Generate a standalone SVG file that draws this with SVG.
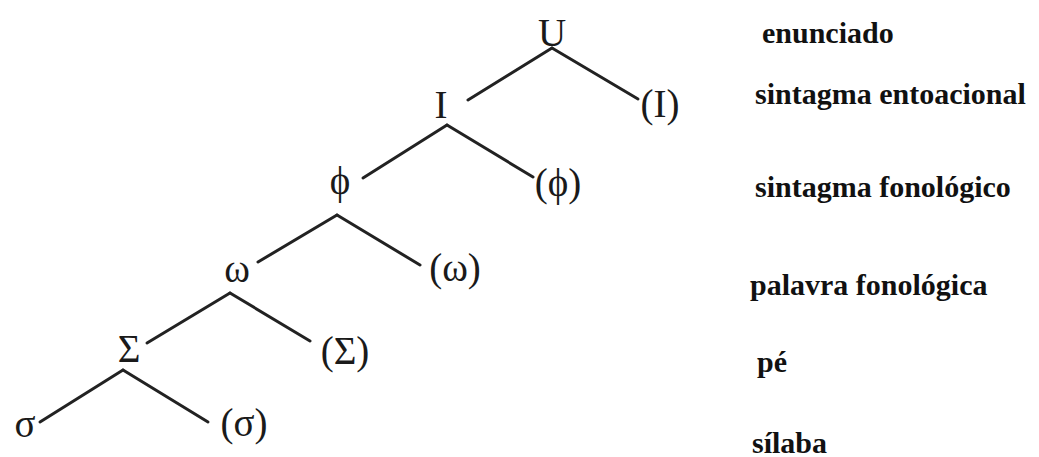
<svg xmlns="http://www.w3.org/2000/svg" width="1039" height="457" viewBox="0 0 1039 457">
<style>
.sym{font-family:"Liberation Serif","Times New Roman",serif;font-size:39px;fill:#1a1a1a;text-anchor:middle}
.lab{font-family:"Liberation Serif","Times New Roman",serif;font-size:30px;font-weight:bold;fill:#111}
.edge{stroke:#222;stroke-width:3;stroke-linecap:round;fill:none}
</style>
<rect width="1039" height="457" fill="#fff"/>
<g id="connectors">
<line class="edge" x1="552" y1="48" x2="468" y2="100"/>
<line class="edge" x1="552" y1="48" x2="638" y2="99"/>
<line class="edge" x1="447" y1="125" x2="363" y2="178"/>
<line class="edge" x1="447" y1="125" x2="533" y2="177"/>
<line class="edge" x1="337" y1="215" x2="258" y2="262"/>
<line class="edge" x1="337" y1="215" x2="420" y2="265"/>
<line class="edge" x1="230" y1="293" x2="147" y2="343"/>
<line class="edge" x1="230" y1="293" x2="310" y2="341"/>
<line class="edge" x1="123" y1="370" x2="40" y2="422"/>
<line class="edge" x1="123" y1="370" x2="208" y2="422"/>
</g>
<g id="node-U"><text class="sym" x="552" y="46">U</text></g>
<g id="node-I"><text class="sym" x="441" y="118">I</text></g>
<g id="node-I-opt"><text class="sym" x="660" y="117">(I)</text></g>
<g id="node-phi"><text class="sym" x="340" y="194">ϕ</text></g>
<g id="node-phi-opt"><text class="sym" x="558" y="196">(ϕ)</text></g>
<g id="node-omega"><text class="sym" x="237" y="282">ω</text></g>
<g id="node-omega-opt"><text class="sym" x="455" y="281">(ω)</text></g>
<g id="node-Sigma"><text class="sym" x="129" y="362">Σ</text></g>
<g id="node-Sigma-opt"><text class="sym" x="345" y="364">(Σ)</text></g>
<g id="node-sigma"><text class="sym" x="25" y="437">σ</text></g>
<g id="node-sigma-opt"><text class="sym" x="244" y="436">(σ)</text></g>
<g id="labels">
<text class="lab" x="762" y="43">enunciado</text>
<text class="lab" x="755" y="104">sintagma entoacional</text>
<text class="lab" x="755" y="197">sintagma fonológico</text>
<text class="lab" x="750" y="295">palavra fonológica</text>
<text class="lab" x="757" y="372">pé</text>
<text class="lab" x="752" y="453">sílaba</text>
</g>
</svg>
